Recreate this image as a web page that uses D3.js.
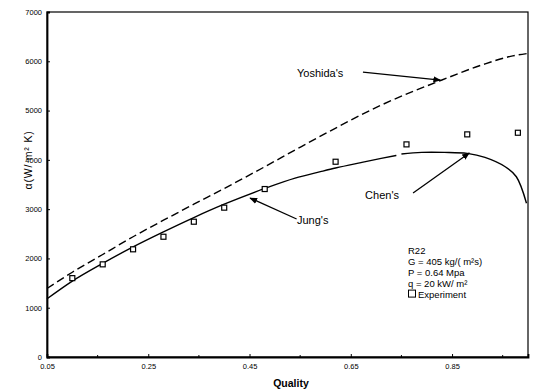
<!DOCTYPE html>
<html>
<head>
<meta charset="utf-8">
<script src="https://cdn.jsdelivr.net/npm/d3@7"></script>
<style>
  html, body { margin: 0; padding: 0; background: #fff; }
  svg { display: block; }
  text { font-family: "Liberation Sans", Arial, Helvetica, sans-serif; fill: #000; }
</style>
</head>
<body>
<svg id="chart" width="537" height="391"></svg>
<script>
// Heat transfer coefficient vs. vapour quality, R22
const xTicks = [0.05, 0.25, 0.45, 0.65, 0.85];
const yTicks = [0, 1000, 2000, 3000, 4000, 5000, 6000, 7000];

// Experimental data
const expQuality = [0.10, 0.16, 0.22, 0.28, 0.34, 0.40, 0.48, 0.62, 0.76, 0.88, 0.98];
const expAlpha   = [1600, 1880, 2185, 2440, 2745, 3030, 3408, 3962, 4314, 4517, 4550];

// Jung's correlation
const jungQuality = [0.05, 0.10, 0.16, 0.22, 0.28, 0.34, 0.40, 0.48, 0.54, 0.59, 0.62, 0.67, 0.71, 0.74];
const jungAlpha   = [1180, 1540, 1900, 2235, 2540, 2830, 3100, 3420, 3630, 3760, 3835, 3945, 4030, 4090];

// Chen's correlation
const chenQuality = [0.75, 0.79, 0.835, 0.88, 0.915, 0.955, 0.977, 0.997];
const chenAlpha   = [4118, 4152, 4152, 4131, 4050, 3860, 3657, 3120];

// Yoshida's correlation
const yoshQuality = [0.05, 0.10, 0.16, 0.22, 0.28, 0.34, 0.40, 0.48, 0.54, 0.61, 0.71, 0.83, 0.91, 0.97, 1.0];
const yoshAlpha   = [1390, 1720, 2080, 2440, 2775, 3100, 3420, 3860, 4200, 4590, 5110, 5620, 5930, 6110, 6160];

// Legend / condition text
const legendLines = ["R22", "G = 405 kg/( m\u00B2s)", "P = 0.64 Mpa", "q = 20 kW/ m\u00B2"];
const legendMarkerLabel = "Experiment";

const svg = d3.select("#chart");
const plotLeft = 47, plotRight = 528, plotTop = 12, plotBottom = 357;

const x = d3.scaleLinear().domain([0.05, 1.0]).range([plotLeft, plotRight]);
const y = d3.scaleLinear().domain([0, 7000]).range([plotBottom, plotTop]);

// Frame
svg.append("rect")
  .attr("x", plotLeft).attr("y", plotTop)
  .attr("width", plotRight - plotLeft).attr("height", plotBottom - plotTop)
  .attr("fill", "none").attr("stroke", "#000").attr("stroke-width", 1.2);

// Axes with inward ticks
const xAxis = d3.axisBottom(x).tickValues(xTicks).tickSize(-3).tickPadding(7)
  .tickFormat(d => d3.format(".2f")(d));
const gx = svg.append("g").attr("transform", `translate(0,${plotBottom})`).call(xAxis);
gx.select(".domain").attr("stroke-width", 1.8);
gx.selectAll(".tick line").attr("stroke-width", 1);
gx.selectAll(".tick text").attr("font-size", 7.5).attr("font-family", "Liberation Sans, Arial, sans-serif");

// minor ticks on the quality axis
const minor = xTicks.map(v => v + 0.1).filter(v => v < 1.0);
svg.append("g").selectAll("line").data(minor).join("line")
  .attr("x1", d => x(d)).attr("x2", d => x(d))
  .attr("y1", plotBottom).attr("y2", plotBottom - 2)
  .attr("stroke", "#000").attr("stroke-width", 1);

const yAxis = d3.axisLeft(y).tickValues(yTicks).tickSize(-3).tickPadding(5)
  .tickFormat(d3.format("d"));
const gy = svg.append("g").attr("transform", `translate(${plotLeft},0)`).call(yAxis);
gy.select(".domain").attr("stroke-width", 1.8);
gy.selectAll(".tick line").attr("stroke-width", 1);
gy.selectAll(".tick text").attr("font-size", 7.5).attr("font-family", "Liberation Sans, Arial, sans-serif");

// Axis titles
svg.append("text")
  .attr("x", 291).attr("y", 387)
  .attr("text-anchor", "middle")
  .attr("font-size", 10.5).attr("font-weight", "bold")
  .text("Quality");

svg.append("text")
  .attr("transform", "translate(32,160) rotate(-90)")
  .attr("text-anchor", "middle")
  .attr("font-size", 10.5)
  .attr("letter-spacing", 0.8)
  .text("\u03B1(W/ m\u00B2 K)");

// Curves
const line = d3.line().x(d => x(d[0])).y(d => y(d[1])).curve(d3.curveMonotoneX);
const zip = (a, b) => a.map((v, i) => [v, b[i]]);

svg.append("path")
  .datum(zip(yoshQuality, yoshAlpha))
  .attr("d", line)
  .attr("fill", "none").attr("stroke", "#000").attr("stroke-width", 1.4)
  .attr("stroke-dasharray", "8,4");

svg.append("path")
  .datum(zip(jungQuality, jungAlpha))
  .attr("d", line)
  .attr("fill", "none").attr("stroke", "#000").attr("stroke-width", 1.4);

svg.append("path")
  .datum(zip(chenQuality, chenAlpha))
  .attr("d", d3.line().x(d => x(d[0])).y(d => y(d[1])).curve(d3.curveCatmullRom))
  .attr("fill", "none").attr("stroke", "#000").attr("stroke-width", 1.4);

// Experimental points
const sq = 5;
svg.append("g").selectAll("rect").data(zip(expQuality, expAlpha)).join("rect")
  .attr("x", d => x(d[0]) - sq / 2).attr("y", d => y(d[1]) - sq / 2)
  .attr("width", sq).attr("height", sq)
  .attr("fill", "#fff").attr("stroke", "#000").attr("stroke-width", 1.2);

// Annotation arrows (tips on the curves, in data units)
const defs = svg.append("defs");
defs.append("marker")
  .attr("id", "head").attr("viewBox", "0 0 10 10")
  .attr("refX", 9).attr("refY", 5)
  .attr("markerWidth", 6).attr("markerHeight", 6)
  .attr("orient", "auto")
  .append("path").attr("d", "M0,1 L10,5 L0,9 Z").attr("fill", "#000");

const notes = [
  { label: "Yoshida's", from: [0.674, 5781], to: [0.827, 5619], tx: 297, ty: 77, anchor: "start" },
  { label: "Jung's",    from: [0.543, 2800], to: [0.451, 3225], tx: 297, ty: 224, anchor: "start" },
  { label: "Chen's",    from: [0.773, 3327], to: [0.884, 4138], tx: 399, ty: 199, anchor: "end" }
];
const ng = svg.append("g");
notes.forEach(n => {
  ng.append("line")
    .attr("x1", x(n.from[0])).attr("y1", y(n.from[1]))
    .attr("x2", x(n.to[0])).attr("y2", y(n.to[1]))
    .attr("stroke", "#000").attr("stroke-width", 1.3)
    .attr("marker-end", "url(#head)");
  ng.append("text")
    .attr("x", n.tx).attr("y", n.ty)
    .attr("text-anchor", n.anchor)
    .attr("font-size", 11)
    .text(n.label);
});

// Condition block and legend
const lineGap = 10.9;
const lg = svg.append("g").attr("transform", "translate(408,0)");
legendLines.forEach((t, i) => {
  lg.append("text").attr("x", 0).attr("y", 254 + i * lineGap)
    .attr("font-size", 9.5).text(t);
});
const ly = 254 + legendLines.length * lineGap;
lg.append("rect").attr("x", 0.5).attr("y", ly - 7.5).attr("width", 7).attr("height", 7)
  .attr("fill", "#fff").attr("stroke", "#000").attr("stroke-width", 1);
lg.append("text").attr("x", 10).attr("y", ly).attr("font-size", 9.5)
  .text(legendMarkerLabel);
</script>
</body>
</html>
